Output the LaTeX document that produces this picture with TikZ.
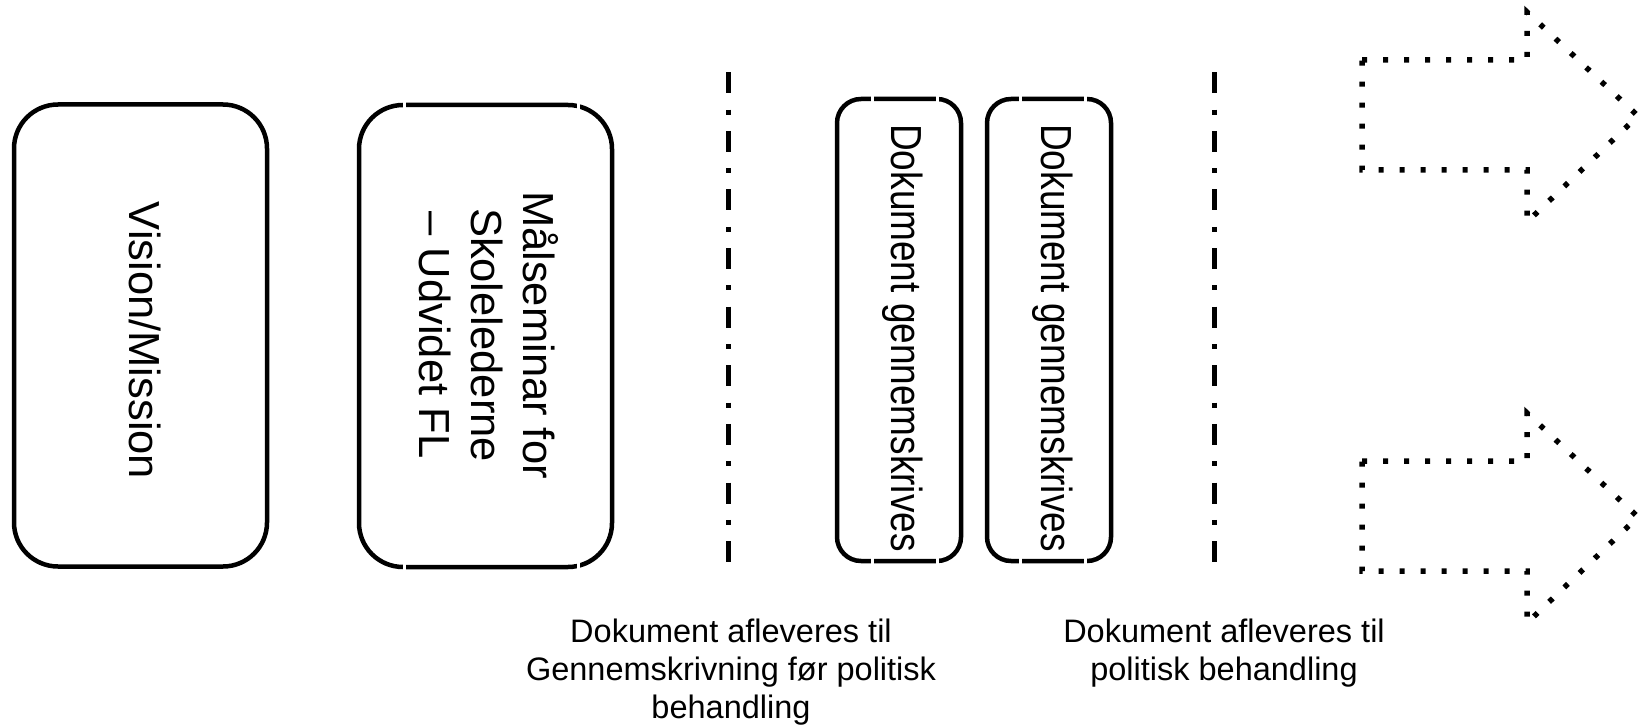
\documentclass[tikz,border=0pt]{standalone}
\usepackage{fontspec}
\setmainfont{Liberation Sans}
\begin{document}
\begin{tikzpicture}[x=1pt,y=-1pt,
  bigbox/.style={draw, line width=4.5pt, rounded corners=44pt, inner sep=0pt,
    minimum width=253pt, minimum height=462pt},
  smallbox/.style={draw, line width=4.5pt, rounded corners=24pt, inner sep=0pt,
    minimum width=124pt, minimum height=462pt},
  boxtext/.style={rotate=-90, align=center, inner sep=0pt, font=\fontsize{43.5}{52}\selectfont},
  doctext/.style={rotate=-90, inner sep=0pt, font=\fontsize{43.5}{48}\selectfont},
  gapmark/.style={fill=white},
  dashdotline/.style={line width=5pt, dash pattern=on 21pt off 16.3pt on 5pt off 16.3pt},
  dotarrow/.style={line width=5.5pt, dash pattern=on 5pt off 16pt},
  note/.style={align=center, inner sep=0pt, font=\fontsize{32.5}{38}\selectfont}
]
\useasboundingbox (0,0) rectangle (1643,727);

% boxes
\node[bigbox] (b1) at (140.5,335.5) {};
\node[bigbox] (b2) at (485.5,336) {};
\node[smallbox] (b3) at (899,330) {};
\node[smallbox] (b4) at (1049,330) {};

% box texts
\node[boxtext] (t1) at ([shift={(5,5)}]b1.center) {Vision/Mission};
\node[boxtext] (t2) at ([shift={(3,-1)}]b2.center) {Målseminar for\\Skolelederne\\– Udvidet FL};
\node[doctext] (t3) at ([shift={(4,8)}]b3.center) {\scalebox{0.85}[1]{Dokument gennemskrives}};
\node[doctext] (t4) at ([shift={(4,8)}]b4.center) {\scalebox{0.85}[1]{Dokument gennemskrives}};

% small gaps in the outlines
\foreach \gx in {404,578}{
  \fill[gapmark] (\gx-1.5,100) rectangle (\gx+1.5,110);
  \fill[gapmark] (\gx-1.5,562) rectangle (\gx+1.5,572);
}
\foreach \gx in {872,937,1020,1085}{
  \fill[gapmark] (\gx-1.5,94) rectangle (\gx+1.5,104);
  \fill[gapmark] (\gx-1.5,556) rectangle (\gx+1.5,566);
}

% dash-dot separators
\coordinate (s1a) at (728,72.3);
\coordinate (s1b) at (728,561.7);
\coordinate (s2a) at (1214,72.3);
\coordinate (s2b) at (1214,561.7);
\draw[dashdotline] (s1a) -- (s1b);
\draw[dashdotline] (s2a) -- (s2b);

% dotted block arrows
\draw[dotarrow] (1362,60) -- (1527,60) -- (1527,12) -- (1638,116) -- (1527,222) -- (1527,170) -- (1362,170) -- cycle;
\draw[dotarrow] (1362,461) -- (1527,461) -- (1527,413) -- (1638,517) -- (1527,623) -- (1527,571) -- (1362,571) -- cycle;

% bottom notes
\node[note, anchor=north] (n1) at (731,619) {Dokument afleveres til\\Gennemskrivning før politisk\\behandling};
\node[note, anchor=north] (n2) at (1224,619) {Dokument afleveres til\\politisk behandling};
\end{tikzpicture}
\end{document}
